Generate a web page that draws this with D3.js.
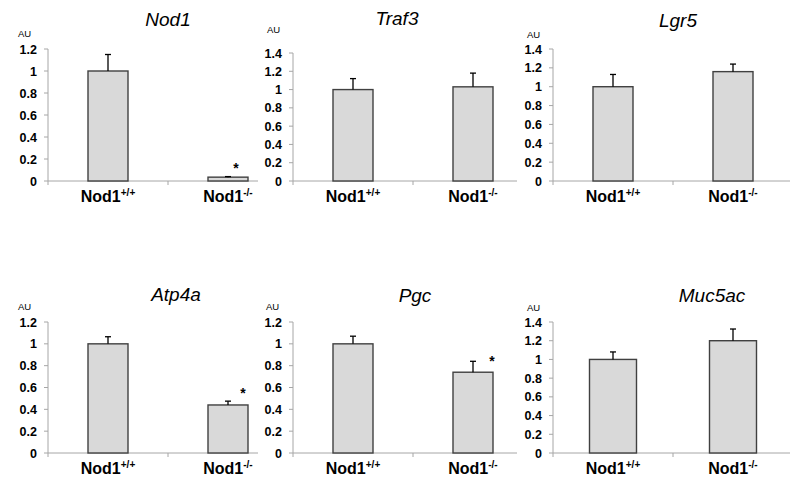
<!DOCTYPE html>
<html>
<head>
<meta charset="utf-8">
<script src="https://cdn.jsdelivr.net/npm/d3@7"></script>
<style>
  body { margin: 0; background: #fff; }
  svg { display: block; font-family: "Liberation Sans", Arial, sans-serif; }
</style>
</head>
<body>
<div id="chart"></div>
<script>
// Data
const genes = ["Nod1", "Traf3", "Lgr5", "Atp4a", "Pgc", "Muc5ac"];
const genotypes = ["+/+", "-/-"];
const means = [[1.0, 0.035], [1.0, 1.03], [1.0, 1.16], [1.0, 0.44], [1.0, 0.74], [1.0, 1.2]];
const errors = [[0.15, 0.005], [0.12, 0.15], [0.13, 0.08], [0.065, 0.035], [0.07, 0.10], [0.08, 0.125]];
const yMax = [1.2, 1.4, 1.4, 1.2, 1.2, 1.4];
const significant = [[false, true], [false, false], [false, false], [false, true], [false, true], [false, false]];

// Panel layout (pixels)
const layout = [
    { x0: 48,  y0: 181, yTop: 49,  axisEnd: 258, barW: 40, titleX: 168, titleY: 26,  auX: 18,  auY: 37,  starDx: 8,  starDy: -4 },
    { x0: 293, y0: 181, yTop: 53,  axisEnd: 517, barW: 40, titleX: 397, titleY: 25,  auX: 267, auY: 33,  starDx: 15, starDy: -3 },
    { x0: 553, y0: 181, yTop: 49,  axisEnd: 790, barW: 40, titleX: 678, titleY: 27,  auX: 527, auY: 38,  starDx: 15, starDy: -3 },
    { x0: 48,  y0: 453, yTop: 322, axisEnd: 258, barW: 40, titleX: 176, titleY: 301, auX: 18,  auY: 310, starDx: 15, starDy: -3 },
    { x0: 293, y0: 453, yTop: 322, axisEnd: 517, barW: 40, titleX: 415, titleY: 302, auX: 266, auY: 310, starDx: 19, starDy: 5 },
    { x0: 553, y0: 453, yTop: 322, axisEnd: 790, barW: 47, titleX: 712, titleY: 302, auX: 527, auY: 311, starDx: 15, starDy: -3 }
];

const width = 791;
const height = 483;
const axisColor = "#a6a6a6";

const svg = d3.select("#chart")
    .append("svg")
    .attr("width", width)
    .attr("height", height);

genes.forEach((gene, i) => {
    const L = layout[i];
    const g = svg.append("g");

    const x = d3.scaleBand()
        .domain(genotypes)
        .range([L.x0, L.x0 + 240])
        .padding(0);

    const y = d3.scaleLinear()
        .domain([0, yMax[i]])
        .range([L.y0, L.yTop]);

    const ticks = d3.range(0, yMax[i] + 0.001, 0.2);

    // Y axis
    g.append("line")
        .attr("x1", L.x0).attr("x2", L.x0)
        .attr("y1", y(0)).attr("y2", y(yMax[i]))
        .attr("stroke", axisColor);

    g.selectAll(".ytick")
        .data(ticks)
        .enter().append("line")
        .attr("x1", L.x0 - 4).attr("x2", L.x0)
        .attr("y1", d => y(d)).attr("y2", d => y(d))
        .attr("stroke", axisColor);

    g.selectAll(".ylabel")
        .data(ticks)
        .enter().append("text")
        .attr("x", L.x0 - 11)
        .attr("y", d => y(d))
        .attr("dy", "0.36em")
        .attr("text-anchor", "end")
        .attr("font-size", 12.5)
        .attr("font-weight", "bold")
        .text(d => String(+d.toFixed(1)));

    // X axis
    g.append("line")
        .attr("x1", L.x0).attr("x2", L.axisEnd)
        .attr("y1", L.y0).attr("y2", L.y0)
        .attr("stroke", axisColor);

    const bounds = [L.x0, L.x0 + x.bandwidth(), L.x0 + 2 * x.bandwidth()]
        .filter(v => v <= L.axisEnd);
    g.selectAll(".xtick")
        .data(bounds)
        .enter().append("line")
        .attr("x1", d => d).attr("x2", d => d)
        .attr("y1", L.y0).attr("y2", L.y0 + 4)
        .attr("stroke", axisColor);

    // Bars
    const rows = genotypes.map((gt, j) => ({
        gt, mean: means[i][j], err: errors[i][j], sig: significant[i][j]
    }));
    const cx = d => x(d.gt) + x.bandwidth() / 2;

    g.selectAll(".bar")
        .data(rows)
        .enter().append("rect")
        .attr("x", d => cx(d) - L.barW / 2)
        .attr("y", d => y(d.mean))
        .attr("width", L.barW)
        .attr("height", d => y(0) - y(d.mean))
        .attr("fill", "#d9d9d9")
        .attr("stroke", "#404040")
        .attr("stroke-width", 1.4);

    // Error bars (upper only)
    g.selectAll(".err")
        .data(rows)
        .enter().append("line")
        .attr("x1", cx).attr("x2", cx)
        .attr("y1", d => y(d.mean)).attr("y2", d => y(d.mean + d.err))
        .attr("stroke", "#000")
        .attr("stroke-width", 1.3);

    g.selectAll(".cap")
        .data(rows)
        .enter().append("line")
        .attr("x1", d => cx(d) - 3).attr("x2", d => cx(d) + 3)
        .attr("y1", d => y(d.mean + d.err)).attr("y2", d => y(d.mean + d.err))
        .attr("stroke", "#000")
        .attr("stroke-width", 1.3);

    // Significance stars
    g.selectAll(".star")
        .data(rows.filter(d => d.sig))
        .enter().append("text")
        .attr("x", d => cx(d) + L.starDx)
        .attr("y", d => y(d.mean + d.err) + L.starDy)
        .attr("text-anchor", "middle")
        .attr("font-size", 14)
        .attr("font-weight", "bold")
        .text("*");

    // Category labels
    const lab = g.selectAll(".xlabel")
        .data(rows)
        .enter().append("text")
        .attr("x", cx)
        .attr("y", L.y0 + 21)
        .attr("text-anchor", "middle")
        .attr("font-size", 16)
        .attr("font-weight", "bold");
    lab.append("tspan").text("Nod1");
    lab.append("tspan")
        .attr("font-size", 10)
        .attr("dy", -6)
        .text(d => d.gt);

    // Title
    g.append("text")
        .attr("x", L.titleX)
        .attr("y", L.titleY)
        .attr("text-anchor", "middle")
        .attr("font-size", 19)
        .attr("font-style", "italic")
        .text(gene);

    // AU unit label
    g.append("text")
        .attr("x", L.auX)
        .attr("y", L.auY)
        .attr("font-size", 9.5)
        .text("AU");
});
</script>
</body>
</html>
